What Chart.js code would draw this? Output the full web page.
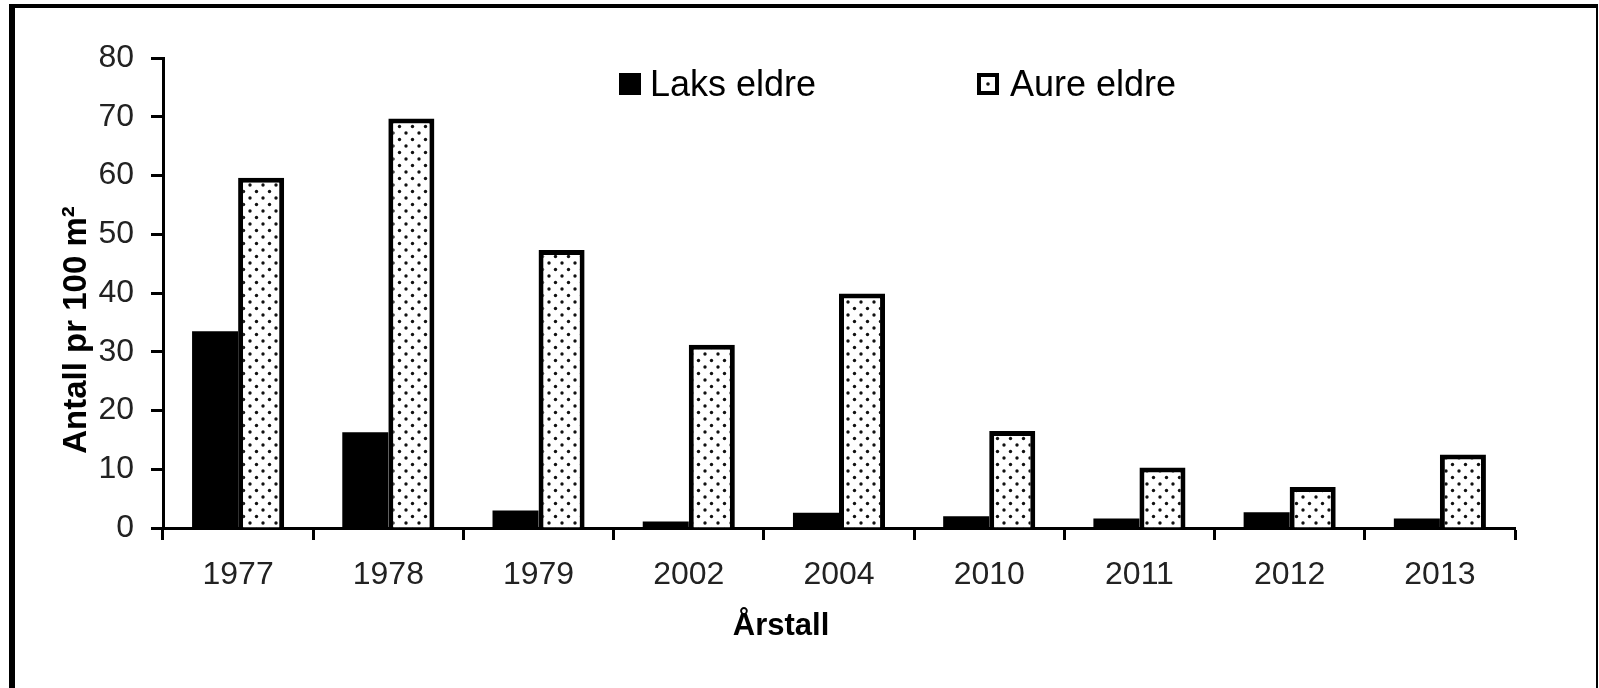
<!DOCTYPE html>
<html>
<head>
<meta charset="utf-8">
<script src="https://cdn.jsdelivr.net/npm/chart.js@4.4.0/dist/chart.umd.min.js"></script>
<style>
  html, body { margin: 0; padding: 0; background: #fff; overflow: hidden; }
  #ramme {
    position: absolute; left: 9px; top: 4px; width: 1589px; height: 720px;
    box-sizing: border-box; border-left: 6px solid #000; border-top: 4px solid #000;
    border-right: 2px solid #000; pointer-events: none;
  }
  canvas { display: block; }
</style>
</head>
<body>
<canvas id="fangst" width="1599" height="688"></canvas>
<div id="ramme"></div>
<script>
// data lest av figuren
const aarstall = ['1977', '1978', '1979', '2002', '2004', '2010', '2011', '2012', '2013'];
const laksEldre = [33.5, 16.3, 3.0, 1.1, 2.6, 2.0, 1.6, 2.7, 1.6];
const aureEldre = [59.6, 69.7, 47.3, 31.2, 39.9, 16.5, 10.3, 7.0, 12.5];
const yMin = 0, yMax = 80, ySteg = 10;

const skrift = 'Arial, "Liberation Sans", sans-serif';
const tekstFarge = '#222';

// prikkemønster for aure
function lagPrikker() {
    const c = document.createElement('canvas');
    c.width = 13; c.height = 13;
    const g = c.getContext('2d');
    g.fillStyle = '#fff';
    g.fillRect(0, 0, 13, 13);
    g.fillStyle = '#111';
    g.beginPath(); g.arc(3, 3, 1.7, 0, Math.PI * 2); g.fill();
    g.beginPath(); g.arc(9.5, 9.5, 1.7, 0, Math.PI * 2); g.fill();
    return document.getElementById('fangst').getContext('2d').createPattern(c, 'repeat');
}

// aksetitler og forklaring tegnes her
const tekstPlugin = {
    id: 'tekster',
    afterDraw(chart) {
        const ctx = chart.ctx;
        ctx.save();
        ctx.fillStyle = '#000';
        ctx.font = 'bold 31px ' + skrift;
        ctx.textBaseline = 'alphabetic';
        ctx.textAlign = 'center';
        ctx.fillText('Årstall', 781, 635);

        ctx.font = 'bold 33px ' + skrift;
        ctx.translate(86, 330);
        ctx.rotate(-Math.PI / 2);
        ctx.fillText('Antall pr 100 m²', 0, 0);
        ctx.restore();

        // forklaring
        ctx.save();
        ctx.font = '36px ' + skrift;
        ctx.textBaseline = 'alphabetic';
        ctx.textAlign = 'left';
        ctx.fillStyle = '#000';
        const ds = chart.data.datasets;
        // Laks
        ctx.fillRect(619, 73, 22, 22);
        ctx.fillText(ds[0].label, 650, 96);
        // Aure
        ctx.fillRect(977, 73, 22, 22);
        ctx.fillStyle = '#fff';
        ctx.fillRect(981, 77, 14, 14);
        ctx.fillStyle = '#111';
        ctx.beginPath(); ctx.arc(988, 84, 1.8, 0, Math.PI * 2); ctx.fill();
        ctx.fillStyle = '#000';
        ctx.fillText(ds[1].label, 1010, 96);
        ctx.restore();
    }
};

new Chart(document.getElementById('fangst'), {
    type: 'bar',
    data: {
        labels: aarstall,
        datasets: [{
            label: 'Laks eldre',
            data: laksEldre,
            backgroundColor: '#000',
            borderColor: '#000',
            borderWidth: 0
        }, {
            label: 'Aure eldre',
            data: aureEldre,
            backgroundColor: lagPrikker(),
            borderColor: '#000',
            borderWidth: { top: 5, left: 5, right: 5, bottom: 0 },
            borderSkipped: 'start'
        }]
    },
    options: {
        responsive: false,
        animation: false,
        datasets: { bar: { barPercentage: 1, categoryPercentage: 0.613 } },
        layout: { padding: { left: 0, top: 58, right: 84, bottom: 0 } },
        plugins: {
            legend: { display: false },
            tooltip: { enabled: false }
        },
        scales: {
            x: {
                afterFit: s => { s.height = 160; },
                grid: { display: true, drawOnChartArea: false, drawTicks: true, tickLength: 12, tickWidth: 3, tickColor: '#000', offset: true },
                border: { display: true, color: '#000', width: 3 },
                ticks: { color: tekstFarge, font: { family: skrift, size: 32 }, padding: 16 }
            },
            y: {
                min: yMin, max: yMax,
                afterFit: s => { s.width = 163; },
                grid: { display: true, drawOnChartArea: false, drawTicks: true, tickLength: 12, tickWidth: 3, tickColor: '#000' },
                border: { display: true, color: '#000', width: 3 },
                ticks: { stepSize: ySteg, color: tekstFarge, font: { family: skrift, size: 32 }, padding: 17 }
            }
        }
    },
    plugins: [tekstPlugin]
});
</script>
</body>
</html>
